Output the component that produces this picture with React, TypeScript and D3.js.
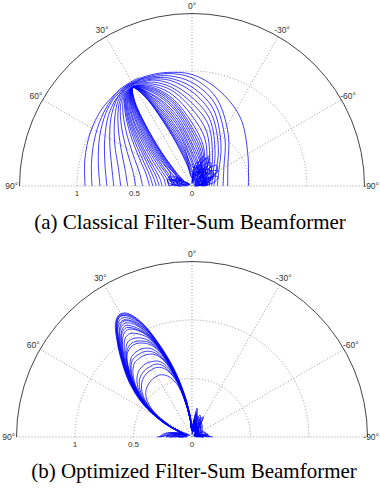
import React from 'react';
import * as d3 from 'd3';

const W = 380;
const H = 489;

// angles in degrees, positive = to the left of the 0° (vertical) axis
const ANG_A = [-90, -60, -35, -15, 0, 12, 20, 25, 28, 31, 34, 37, 42, 50, 62, 76, 90];

// classical filter-sum beam patterns, one row per frequency (broad -> narrow)
const CLASSICAL = [
    [0.49, 0.56, 0.73, 0.87, 0.97, 1.01, 1.03, 1.04, 1.05, 1.05, 1.05, 1.05, 1.04, 1.03, 1.0, 0.96, 0.93],
    [0.31, 0.36, 0.55, 0.8, 0.94, 1.0, 1.02, 1.03, 1.04, 1.04, 1.04, 1.04, 1.03, 1.0, 0.95, 0.9, 0.87],
    [0.27, 0.32, 0.5, 0.75, 0.9, 0.98, 1.01, 1.03, 1.03, 1.04, 1.04, 1.03, 1.02, 0.98, 0.91, 0.84, 0.8],
    [0.22, 0.27, 0.44, 0.7, 0.86, 0.96, 1.0, 1.02, 1.03, 1.03, 1.03, 1.02, 1.0, 0.95, 0.86, 0.78, 0.74],
    [0.19, 0.24, 0.4, 0.65, 0.82, 0.94, 0.99, 1.01, 1.02, 1.03, 1.03, 1.02, 0.99, 0.92, 0.81, 0.72, 0.68],
    [0.17, 0.21, 0.35, 0.6, 0.77, 0.91, 0.98, 1.0, 1.02, 1.02, 1.02, 1.01, 0.97, 0.88, 0.76, 0.66, 0.62],
    [0.15, 0.19, 0.31, 0.55, 0.72, 0.88, 0.96, 0.99, 1.01, 1.02, 1.02, 1.0, 0.95, 0.84, 0.7, 0.6, 0.56],
    [0.13, 0.17, 0.27, 0.49, 0.67, 0.85, 0.94, 0.98, 1.0, 1.01, 1.01, 0.99, 0.93, 0.8, 0.64, 0.53, 0.49],
    [0.12, 0.15, 0.23, 0.43, 0.61, 0.81, 0.92, 0.97, 0.99, 1.01, 1.0, 0.98, 0.9, 0.75, 0.58, 0.47, 0.43],
    [0.1, 0.13, 0.2, 0.37, 0.55, 0.77, 0.9, 0.96, 0.99, 1.0, 1.0, 0.97, 0.87, 0.7, 0.52, 0.41, 0.37],
    [0.11, 0.14, 0.19, 0.34, 0.51, 0.745, 0.885, 0.95, 0.985, 1.0, 0.995, 0.96, 0.855, 0.67, 0.485, 0.38, 0.34],
    [0.09, 0.12, 0.17, 0.31, 0.48, 0.72, 0.87, 0.94, 0.98, 1.0, 0.99, 0.95, 0.84, 0.64, 0.45, 0.35, 0.31],
    [0.085, 0.115, 0.16, 0.285, 0.445, 0.69, 0.85, 0.93, 0.975, 1.0, 0.985, 0.94, 0.82, 0.61, 0.42, 0.32, 0.285],
    [0.08, 0.11, 0.15, 0.26, 0.41, 0.66, 0.83, 0.92, 0.97, 1.0, 0.98, 0.93, 0.8, 0.58, 0.39, 0.29, 0.26],
    [0.09, 0.1, 0.16, 0.24, 0.37, 0.62, 0.8, 0.9, 0.96, 1.0, 0.975, 0.915, 0.77, 0.54, 0.35, 0.25, 0.23],
    [0.1, 0.12, 0.14, 0.21, 0.34, 0.58, 0.78, 0.89, 0.96, 1.0, 0.97, 0.9, 0.75, 0.5, 0.31, 0.22, 0.2],
    [0.14, 0.11, 0.12, 0.19, 0.3, 0.54, 0.75, 0.87, 0.955, 1.0, 0.965, 0.885, 0.71, 0.46, 0.27, 0.19, 0.17],
    [0.12, 0.14, 0.13, 0.17, 0.27, 0.5, 0.72, 0.86, 0.95, 1.0, 0.96, 0.87, 0.68, 0.42, 0.24, 0.17, 0.15],
    [0.08, 0.15, 0.18, 0.15, 0.23, 0.45, 0.68, 0.84, 0.945, 1.0, 0.955, 0.85, 0.64, 0.38, 0.21, 0.22, 0.2],
    [0.1, 0.22, 0.18, 0.13, 0.2, 0.41, 0.64, 0.82, 0.94, 1.0, 0.95, 0.83, 0.6, 0.34, 0.18, 0.13, 0.12],
    [0.11, 0.09, 0.14, 0.16, 0.17, 0.36, 0.6, 0.8, 0.93, 1.0, 0.94, 0.8, 0.56, 0.3, 0.15, 0.16, 0.18],
    [0.08, 0.12, 0.16, 0.1, 0.14, 0.32, 0.55, 0.77, 0.92, 1.0, 0.93, 0.78, 0.52, 0.27, 0.13, 0.11, 0.1],
    [0.07, 0.14, 0.1, 0.11, 0.12, 0.28, 0.5, 0.75, 0.91, 1.0, 0.92, 0.75, 0.48, 0.24, 0.12, 0.09, 0.07],
    [0.06, 0.2, 0.14, 0.12, 0.1, 0.24, 0.46, 0.72, 0.9, 1.0, 0.91, 0.73, 0.45, 0.21, 0.1, 0.2, 0.12],
    [0.09, 0.06, 0.16, 0.09, 0.08, 0.2, 0.42, 0.7, 0.895, 1.0, 0.9, 0.7, 0.42, 0.19, 0.11, 0.14, 0.1],
    [0.05, 0.08, 0.12, 0.13, 0.07, 0.17, 0.39, 0.68, 0.89, 1.0, 0.89, 0.68, 0.39, 0.17, 0.08, 0.1, 0.08],
];

// side lobes near the origin, right and left of the main lobe
const SIDE_ANG_R = [-90, -80, -70, -60, -50, -40, -30, -20, -10, 0];
const SIDE_ANG_L = [55, 62, 69, 76, 83, 90];

const CLASSICAL_SIDE_R = [
    [0.02, 0.1, 0.18, 0.22, 0.15, 0.04, 0.12, 0.2, 0.14, 0.03],
    [0.05, 0.03, 0.12, 0.25, 0.28, 0.16, 0.05, 0.15, 0.18, 0.06],
    [0.1, 0.16, 0.1, 0.03, 0.14, 0.26, 0.22, 0.08, 0.04, 0.05],
    [0.03, 0.08, 0.2, 0.14, 0.04, 0.1, 0.25, 0.27, 0.12, 0.02],
    [0.08, 0.2, 0.24, 0.12, 0.02, 0.18, 0.3, 0.18, 0.04, 0.04],
    [0.02, 0.05, 0.14, 0.26, 0.2, 0.06, 0.1, 0.22, 0.2, 0.08],
    [0.12, 0.06, 0.03, 0.12, 0.22, 0.24, 0.12, 0.03, 0.1, 0.04],
    [0.04, 0.14, 0.17, 0.08, 0.06, 0.2, 0.28, 0.2, 0.06, 0.02],
];
const CLASSICAL_SIDE_L = [
    [0.02, 0.12, 0.2, 0.14, 0.05, 0.12],
    [0.06, 0.02, 0.1, 0.22, 0.2, 0.1],
    [0.03, 0.15, 0.1, 0.03, 0.14, 0.2],
    [0.1, 0.18, 0.22, 0.12, 0.04, 0.06],
    [0.02, 0.06, 0.16, 0.2, 0.12, 0.16],
];

const ANG_B = [-90, -60, -30, -10, 0, 5, 10, 15, 20, 24, 28, 31, 34, 38, 43, 49, 56, 63, 70, 80, 90];

// optimized filter-sum beam patterns (outer lobes -> inner lobes)
const OPTIMIZED = [
    [0.03, 0.03, 0.05, 0.05, 0.09, 0.18, 0.36, 0.6, 0.86, 1.07, 1.19, 1.21, 1.16, 1.03, 0.87, 0.7, 0.5, 0.28, 0.1, 0.04, 0.05],
    [0.05, 0.07, 0.06, 0.09, 0.1, 0.19, 0.37, 0.61, 0.87, 1.08, 1.2, 1.215, 1.17, 1.04, 0.88, 0.71, 0.51, 0.29, 0.12, 0.08, 0.12],
    [0.08, 0.05, 0.1, 0.06, 0.08, 0.17, 0.34, 0.58, 0.84, 1.05, 1.17, 1.2, 1.15, 1.02, 0.86, 0.69, 0.49, 0.27, 0.1, 0.12, 0.18],
    [0.14, 0.06, 0.12, 0.18, 0.08, 0.17, 0.35, 0.59, 0.85, 1.06, 1.18, 1.2, 1.15, 1.03, 0.87, 0.7, 0.5, 0.28, 0.1, 0.2, 0.27],
    [0.1, 0.04, 0.18, 0.12, 0.07, 0.16, 0.33, 0.57, 0.83, 1.03, 1.15, 1.18, 1.14, 1.01, 0.85, 0.68, 0.48, 0.26, 0.09, 0.06, 0.1],
    [0.06, 0.03, 0.2, 0.1, 0.07, 0.16, 0.34, 0.58, 0.83, 1.02, 1.13, 1.16, 1.13, 1.01, 0.85, 0.68, 0.48, 0.26, 0.09, 0.04, 0.06],
    [0.05, 0.06, 0.08, 0.25, 0.1, 0.15, 0.32, 0.56, 0.81, 1.0, 1.12, 1.15, 1.11, 1.0, 0.84, 0.67, 0.47, 0.25, 0.1, 0.15, 0.22],
    [0.09, 0.05, 0.07, 0.16, 0.06, 0.15, 0.32, 0.56, 0.81, 0.99, 1.1, 1.13, 1.1, 0.99, 0.84, 0.67, 0.47, 0.26, 0.1, 0.14, 0.16],
    [0.12, 0.08, 0.05, 0.1, 0.06, 0.15, 0.31, 0.55, 0.8, 0.97, 1.07, 1.11, 1.08, 0.98, 0.83, 0.66, 0.46, 0.25, 0.08, 0.05, 0.08],
    [0.04, 0.09, 0.12, 0.05, 0.06, 0.15, 0.31, 0.55, 0.8, 0.96, 1.05, 1.09, 1.07, 0.97, 0.83, 0.66, 0.47, 0.25, 0.09, 0.08, 0.2],
    [0.06, 0.1, 0.15, 0.08, 0.05, 0.14, 0.3, 0.55, 0.79, 0.95, 1.04, 1.07, 1.05, 0.96, 0.82, 0.66, 0.46, 0.24, 0.1, 0.18, 0.26],
    [0.15, 0.1, 0.06, 0.22, 0.08, 0.14, 0.3, 0.54, 0.78, 0.93, 1.0, 1.03, 1.02, 0.94, 0.81, 0.65, 0.46, 0.24, 0.08, 0.06, 0.12],
    [0.04, 0.05, 0.12, 0.06, 0.06, 0.14, 0.3, 0.54, 0.77, 0.9, 0.96, 0.98, 0.98, 0.92, 0.8, 0.65, 0.45, 0.24, 0.09, 0.13, 0.2],
    [0.07, 0.04, 0.08, 0.2, 0.07, 0.14, 0.3, 0.53, 0.76, 0.88, 0.93, 0.95, 0.95, 0.91, 0.8, 0.65, 0.45, 0.24, 0.08, 0.1, 0.14],
    [0.1, 0.05, 0.07, 0.14, 0.07, 0.14, 0.3, 0.53, 0.75, 0.86, 0.91, 0.93, 0.93, 0.9, 0.79, 0.64, 0.45, 0.24, 0.07, 0.05, 0.1],
    [0.03, 0.08, 0.14, 0.07, 0.05, 0.13, 0.29, 0.52, 0.72, 0.82, 0.86, 0.87, 0.87, 0.85, 0.77, 0.63, 0.45, 0.23, 0.09, 0.1, 0.15],
    [0.05, 0.06, 0.1, 0.08, 0.06, 0.13, 0.29, 0.52, 0.7, 0.79, 0.83, 0.84, 0.84, 0.83, 0.76, 0.63, 0.45, 0.23, 0.07, 0.06, 0.09],
    [0.08, 0.04, 0.06, 0.12, 0.06, 0.13, 0.29, 0.51, 0.69, 0.77, 0.8, 0.81, 0.81, 0.8, 0.74, 0.62, 0.44, 0.23, 0.08, 0.07, 0.12],
    [0.05, 0.06, 0.1, 0.08, 0.05, 0.13, 0.28, 0.5, 0.65, 0.71, 0.73, 0.74, 0.74, 0.73, 0.69, 0.6, 0.43, 0.22, 0.08, 0.12, 0.18],
    [0.1, 0.05, 0.06, 0.15, 0.05, 0.13, 0.28, 0.49, 0.62, 0.68, 0.7, 0.7, 0.7, 0.69, 0.66, 0.58, 0.43, 0.22, 0.08, 0.16, 0.22],
    [0.04, 0.03, 0.05, 0.1, 0.06, 0.13, 0.28, 0.48, 0.6, 0.65, 0.67, 0.67, 0.67, 0.66, 0.63, 0.56, 0.42, 0.22, 0.07, 0.05, 0.08],
    [0.06, 0.05, 0.08, 0.06, 0.05, 0.12, 0.27, 0.45, 0.54, 0.58, 0.6, 0.6, 0.6, 0.59, 0.57, 0.52, 0.4, 0.21, 0.08, 0.1, 0.14],
];

const OPTIMIZED_SIDE_R = [
    [0.15, 0.1, 0.03, 0.02, 0.03, 0.06, 0.12, 0.18, 0.12, 0.03],
    [0.18, 0.08, 0.02, 0.03, 0.05, 0.1, 0.16, 0.1, 0.04, 0.02],
    [0.1, 0.14, 0.06, 0.02, 0.04, 0.08, 0.06, 0.16, 0.2, 0.05],
    [0.05, 0.12, 0.12, 0.05, 0.02, 0.05, 0.14, 0.2, 0.1, 0.02],
    [0.16, 0.12, 0.04, 0.03, 0.08, 0.12, 0.06, 0.1, 0.16, 0.06],
];
const OPTIMIZED_SIDE_L = [
    [0.03, 0.05, 0.1, 0.16, 0.24, 0.28],
    [0.02, 0.03, 0.06, 0.12, 0.2, 0.22],
    [0.04, 0.08, 0.12, 0.1, 0.16, 0.3],
    [0.02, 0.04, 0.05, 0.08, 0.14, 0.18],
];

const SPOKES = [-60, -30, 0, 30, 60];
const RINGS = [0.5, 1];
const ANGLE_LABELS = [90, 60, 30, 0, -30, -60, -90];
const RADIAL_LABELS = [1, 0.5, 0];
const R_MAX = 1.5;
const CAPTIONS = ['(a) Classical Filter-Sum Beamformer', '(b) Optimized Filter-Sum Beamformer'];

const toRad = (deg: number) => (-deg * Math.PI) / 180;

type Group = { angles: number[]; rows: number[][] };

function PolarPanel({ cx, cy, R, groups }: { cx: number; cy: number; R: number; groups: Group[] }) {
    const r = d3.scaleLinear().domain([0, R_MAX]).range([0, R]);

    const lineFor = (angles: number[]) =>
        d3
            .lineRadial<number>()
            .angle((_, i) => toRad(angles[i]))
            .radius((d) => r(d))
            .curve(d3.curveCatmullRom.alpha(0.5));

    const halfCircle = (rr: number) => {
        const p = d3.path();
        p.arc(0, 0, rr, Math.PI, 2 * Math.PI);
        return p.toString();
    };

    const dotted = { stroke: '#9a9a9a', strokeWidth: 1, strokeDasharray: '1 2', fill: 'none' };
    const labelFont = "'Liberation Sans', Arial, sans-serif";

    return (
        <g transform={`translate(${cx},${cy})`}>
            {/* grid */}
            {RINGS.map((v) => (
                <path key={v} d={halfCircle(r(v))} {...dotted} />
            ))}
            {SPOKES.map((a) => (
                <line key={a} x1={0} y1={0} x2={r(R_MAX) * Math.sin(toRad(a))} y2={-r(R_MAX) * Math.cos(toRad(a))} {...dotted} />
            ))}
            <line x1={-R} y1={0} x2={R} y2={0} {...dotted} />

            {/* beam patterns */}
            {groups.map((g, gi) => {
                const line = lineFor(g.angles);
                return g.rows.map((c, i) => (
                    <path key={`${gi}-${i}`} d={line(c) ?? ''} fill="none" stroke="#0000ff" strokeWidth={0.75} />
                ));
            })}

            <path d={halfCircle(R)} fill="none" stroke="#444" strokeWidth={1} />

            {ANGLE_LABELS.map((a) => {
                let x = R * 1.045 * Math.sin(toRad(a));
                let anchor = 'middle';
                // keep the right-most label inside the page
                if (cx + x + 9 > W) {
                    x = W - 1 - cx;
                    anchor = 'end';
                }
                return (
                    <text
                        key={a}
                        x={x}
                        y={-R * 1.045 * Math.cos(toRad(a))}
                        textAnchor={anchor}
                        dominantBaseline="central"
                        fontSize={8.5}
                        fill="#333"
                        fontFamily={labelFont}
                    >
                        {`${a}°`}
                    </text>
                );
            })}
            {RADIAL_LABELS.map((v) => (
                <text key={v} x={-r(v)} y={10} textAnchor="middle" fontSize={8} fill="#333" fontFamily={labelFont}>
                    {v}
                </text>
            ))}
        </g>
    );
}

export default function App() {
    const capFont = "'Liberation Serif', 'Times New Roman', serif";
    return (
        <svg width={W} height={H} style={{ position: 'absolute', left: 0, top: 0, background: '#fff' }}>
            <PolarPanel
                cx={192}
                cy={186}
                R={172.5}
                groups={[
                    { angles: ANG_A, rows: CLASSICAL },
                    { angles: SIDE_ANG_R, rows: CLASSICAL_SIDE_R },
                    { angles: SIDE_ANG_L, rows: CLASSICAL_SIDE_L },
                ]}
            />
            <text x={190} y={229} textAnchor="middle" fontSize={21} fontFamily={capFont}>
                {CAPTIONS[0]}
            </text>
            <PolarPanel
                cx={192}
                cy={437}
                R={175.5}
                groups={[
                    { angles: ANG_B, rows: OPTIMIZED },
                    { angles: SIDE_ANG_R, rows: OPTIMIZED_SIDE_R },
                    { angles: SIDE_ANG_L, rows: OPTIMIZED_SIDE_L },
                ]}
            />
            <text x={194} y={478} textAnchor="middle" fontSize={21} fontFamily={capFont}>
                {CAPTIONS[1]}
            </text>
        </svg>
    );
}
